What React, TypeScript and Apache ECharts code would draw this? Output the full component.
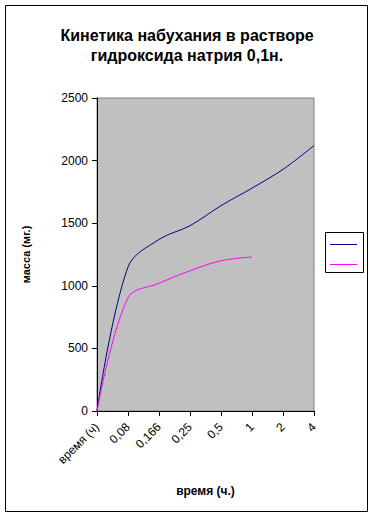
import React, { useEffect, useRef } from "react";
import * as echarts from "echarts";

const titleText = "Кинетика набухания в растворе\nгидроксида натрия 0,1н.";
const yAxisName = "масса (мг.)";
const xAxisName = "время (ч.)";
const categories = ["время (ч)", "0,08", "0,166", "0,25", "0,5", "1", "2", "4"];
const seriesBlue = [0, 1150, 1370, 1480, 1640, 1780, 1930, 2120];
const seriesPink = [0, 905, 1020, 1120, 1200, 1230, null, null];
const yMin = 0;
const yMax = 2500;
const yInterval = 500;

const FONT = 'Arial, "Liberation Sans", sans-serif';

export default function App() {
  const ref = useRef<HTMLDivElement>(null);
  useEffect(() => {
    if (!ref.current) return;
    const chart = echarts.init(ref.current, null, { renderer: "svg" });
    chart.setOption({
      animation: false,
      backgroundColor: "#ffffff",
      title: {
        text: titleText,
        left: "center",
        top: 20,
        textStyle: {
          fontFamily: FONT,
          fontWeight: "bold",
          fontSize: 16,
          lineHeight: 20,
          color: "#000",
        },
      },
      grid: {
        left: 97,
        right: 60,
        top: 98,
        bottom: 107,
        show: true,
        backgroundColor: "#c0c0c0",
        borderColor: "#808080",
        borderWidth: 1,
      },
      xAxis: {
        type: "category",
        data: categories,
        boundaryGap: false,
        name: xAxisName,
        nameLocation: "middle",
        nameGap: 74,
        nameTextStyle: { fontFamily: FONT, fontWeight: "bold", fontSize: 12, color: "#000" },
        axisLine: { lineStyle: { color: "#000", width: 1 } },
        axisTick: { show: true, length: 5, interval: 0, lineStyle: { color: "#000" } },
        axisLabel: {
          interval: 0,
          rotate: 45,
          margin: 14,
          fontFamily: FONT,
          fontSize: 12,
          color: "#000",
        },
        splitLine: { show: false },
      },
      yAxis: {
        type: "value",
        min: yMin,
        max: yMax,
        interval: yInterval,
        name: yAxisName,
        nameLocation: "middle",
        nameGap: 66,
        nameRotate: 90,
        nameTextStyle: { fontFamily: FONT, fontWeight: "bold", fontSize: 11, color: "#000" },
        axisLine: { show: true, lineStyle: { color: "#000", width: 1 } },
        axisTick: { show: true, length: 5, lineStyle: { color: "#000" } },
        axisLabel: {
          margin: 9,
          fontFamily: FONT,
          fontSize: 12,
          color: "#000",
          formatter: (v: number) => String(v),
        },
        splitLine: { show: false },
      },
      series: [
        {
          name: "Ряд1",
          type: "line",
          data: seriesBlue,
          smooth: 0.35,
          symbol: "none",
          lineStyle: { color: "#000080", width: 1 },
          itemStyle: { color: "#000080" },
        },
        {
          name: "Ряд2",
          type: "line",
          data: seriesPink,
          smooth: 0.35,
          symbol: "none",
          lineStyle: { color: "#ff00ff", width: 1 },
          itemStyle: { color: "#ff00ff" },
        },
      ],
      graphic: [
        {
          type: "rect",
          shape: { x: 5.5, y: 5.5, width: 362, height: 506 },
          style: { fill: "none", stroke: "#000", lineWidth: 1 },
          silent: true,
        },
        {
          type: "rect",
          shape: { x: 325.5, y: 232.5, width: 38, height: 40 },
          style: { fill: "#fff", stroke: "#000", lineWidth: 1 },
          silent: true,
        },
        {
          type: "line",
          shape: { x1: 330, y1: 244.5, x2: 357, y2: 244.5 },
          style: { stroke: "#000080", lineWidth: 1 },
          silent: true,
        },
        {
          type: "line",
          shape: { x1: 330, y1: 264.5, x2: 357, y2: 264.5 },
          style: { stroke: "#ff00ff", lineWidth: 1 },
          silent: true,
        },
      ],
    });
    return () => chart.dispose();
  }, []);
  return (
    <div
      ref={ref}
      style={{ position: "absolute", left: 0, top: 0, width: 374, height: 518 }}
    />
  );
}
